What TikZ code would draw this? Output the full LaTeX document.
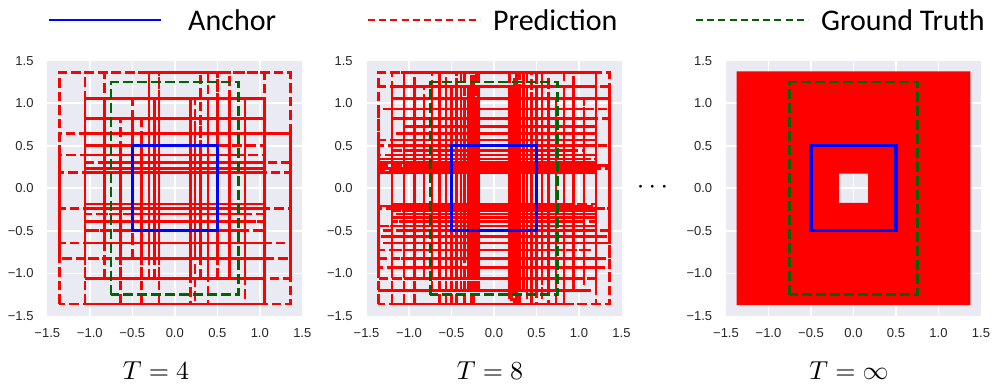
\documentclass[tikz,border=0pt]{standalone}
\usepackage{fontspec}
\newfontfamily\tickfont{Liberation Sans}
\newfontfamily\legfont{Carlito}
\definecolor{axbg}{HTML}{EAEAF2}
\definecolor{gtgreen}{RGB}{0,100,0}
\definecolor{ticktext}{HTML}{262626}
\tikzset{
  predbox/.style={draw=red, line width=2.6pt, dash pattern=on 9.5pt off 4pt},
  gtbox/.style={draw=gtgreen, line width=2.8pt, dash pattern=on 10pt off 4pt},
  anchorbox/.style={draw=blue, line width=3.2pt},
  gridln/.style={draw=white, line width=1.6pt},
  ticklab/.style={font=\tickfont\fontsize{13}{15}\selectfont, inner sep=0pt, text=ticktext},
  legtext/.style={font=\legfont\fontsize{30}{34}\selectfont, inner sep=0pt, anchor=base west},
  legblue/.style={draw=blue, line width=2pt},
  legred/.style={draw=red, line width=2pt, dash pattern=on 7pt off 4.2pt},
  leggreen/.style={draw=gtgreen, line width=2pt, dash pattern=on 7pt off 4.2pt},
  tlabel/.style={scale=2.6, anchor=base, inner sep=0pt},
}
\newcommand{\drawaxes}[1]{%
  \fill[axbg] (-1.5,-1.5) rectangle (1.5,1.5);
  \foreach \g in {-1,-0.5,0,0.5,1} {
    \draw[gridln] (\g,-1.5) -- (\g,1.5);
    \draw[gridln] (-1.5,\g) -- (1.5,\g);
  }
  \foreach \g/\t [count=\i] in {-1.5/−1.5,-1/−1.0,-0.5/−0.5,0/0.0,0.5/0.5,1/1.0,1.5/1.5} {
    \node[ticklab, anchor=east] (#1y\i) at (-1.66,\g) {\t};
    \node[ticklab] (#1x\i) at (\g,-1.70) {\t};
  }
}
% edge index 0..2T, the outermost level (2T) is three times rarer
\newcommand{\edgeidx}[2]{%
  \pgfmathrandominteger{\uu}{0}{6*#2}%
  \pgfmathtruncatemacro{#1}{min(floor(\uu/3),2*#2)}%
}
\newcommand{\predboxes}[2]{%
  \draw[predbox] ({-0.5*exp(1)},{-0.5*exp(1)}) rectangle ({0.5*exp(1)},{0.5*exp(1)});
  \foreach \n in {1,...,#2} {
    \edgeidx{\ra}{#1}
    \edgeidx{\rb}{#1}
    \edgeidx{\rc}{#1}
    \edgeidx{\rd}{#1}
    \draw[predbox] ({-0.5*exp((\ra-#1)/#1)},{-0.5*exp((\rc-#1)/#1)}) rectangle ({0.5*exp((\rb-#1)/#1)},{0.5*exp((\rd-#1)/#1)});
  }
}
\begin{document}
\begin{tikzpicture}[x=1pt,y=1pt]
\useasboundingbox (0,0) rectangle (996,-390);
% legend
\coordinate (lb1) at (49,-20); \coordinate (lb2) at (161,-20);
\coordinate (lr1) at (368,-20); \coordinate (lr2) at (480,-20);
\coordinate (lg1) at (696,-20); \coordinate (lg2) at (808,-20);
\draw[legblue] (lb1) -- (lb2);
\draw[legred] (lr1) -- (lr2);
\draw[leggreen] (lg1) -- (lg2);
\node[legtext] (lanchor) at (188,-31) {Anchor};
\node[legtext] (lpred) at (493,-31) {Prediction};
\node[legtext] (lgt) at (821,-31) {Ground Truth};
% plot 1: T=4
\begin{scope}[shift={(174.8,-188.3)}, x=85pt, y=85pt]
  \drawaxes{a}
  \pgfmathsetseed{987}
  \predboxes{4}{140}
  \draw[gtbox] (-0.75,-1.25) rectangle (0.75,1.25);
  \draw[anchorbox] (-0.5,-0.5) rectangle (0.5,0.5);
\end{scope}
% plot 2: T=8
\begin{scope}[shift={(494,-188.3)}, x=85pt, y=85pt]
  \drawaxes{b}
  \pgfmathsetseed{2024}
  \predboxes{8}{650}
  \draw[gtbox] (-0.75,-1.25) rectangle (0.75,1.25);
  \draw[anchorbox] (-0.5,-0.5) rectangle (0.5,0.5);
\end{scope}
% plot 3: T=infinity
\begin{scope}[shift={(853.5,-188.3)}, x=85pt, y=85pt]
  \drawaxes{c}
  \fill[red, even odd rule] (-1.375,-1.375) rectangle (1.375,1.375) (-0.172,-0.172) rectangle (0.172,0.172);
  \draw[gtbox] (-0.75,-1.25) rectangle (0.75,1.25);
  \draw[anchorbox] (-0.5,-0.5) rectangle (0.5,0.5);
\end{scope}
\node[scale=2.7, anchor=base, inner sep=0pt] (dots) at (652.5,-194) {$\cdots$};
% titles
\node[tlabel] (t4) at (156,-379) {$T=4$};
\node[tlabel] (t8) at (490,-379) {$T=8$};
\node[tlabel] (tinf) at (849,-379) {$T=\infty$};
\end{tikzpicture}
\end{document}
